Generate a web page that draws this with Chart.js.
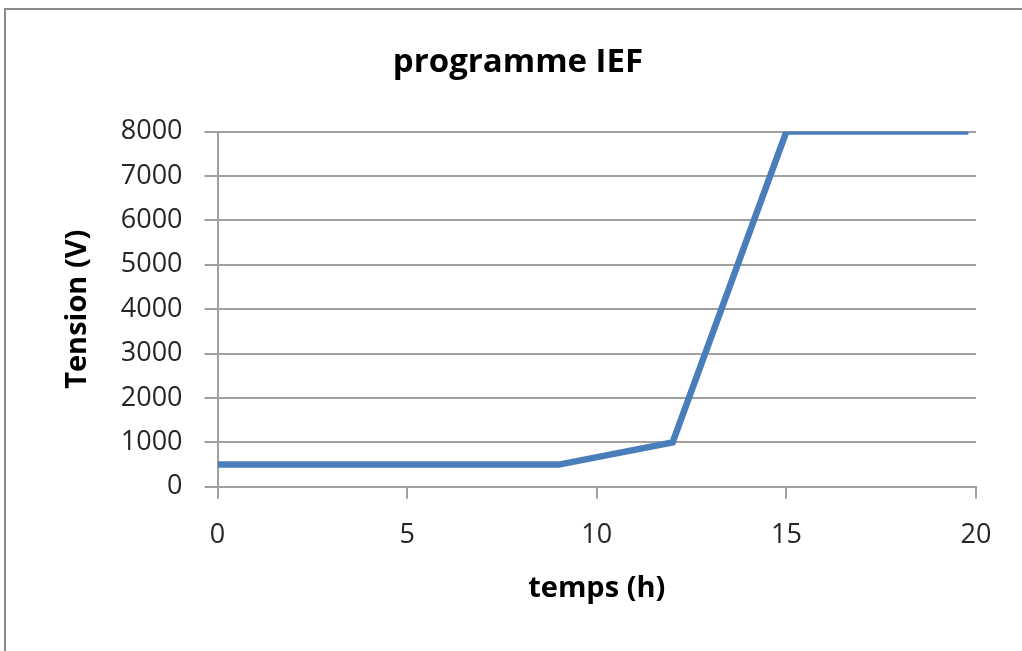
<!DOCTYPE html>
<html>
<head>
<meta charset="utf-8">
<script src="https://cdn.jsdelivr.net/npm/chart.js@4/dist/chart.umd.min.js"></script>
<style>
  html, body { margin: 0; padding: 0; background: #fff; }
  body { width: 1022px; height: 651px; overflow: hidden; position: relative; }
  #frame { position: absolute; left: 4px; top: 8px; width: 1030px; height: 660px;
           border: 2px solid #8a8a8a; box-sizing: border-box; }
  #wrap { position: absolute; left: 0; top: 0; width: 1022px; height: 651px; }
</style>
</head>
<body>
<div id="frame"></div>
<div id="wrap"><canvas id="c" width="1022" height="651"></canvas></div>
<script>
// IEF voltage program: time (h) vs. voltage (V)
const hours   = [0, 9, 12, 15, 19.8];
const voltage = [500, 500, 1000, 8000, 8000];
const xTicks  = [0, 5, 10, 15, 20];
const yTicks  = [0, 1000, 2000, 3000, 4000, 5000, 6000, 7000, 8000];

const points = hours.map((h, i) => ({ x: h, y: voltage[i] }));
const fontFamily = '"Open Sans", "Liberation Sans", sans-serif';
const gridColor = '#a0a0a0';

new Chart(document.getElementById('c'), {
  type: 'line',
  data: {
    datasets: [{
      data: points,
      borderColor: '#4a7ebb',
      borderWidth: 6.5,
      pointRadius: 0,
      tension: 0,
      fill: false,
      borderJoinStyle: 'miter'
    }]
  },
  options: {
    responsive: false,
    animation: false,
    layout: { padding: { left: 60, right: 46, top: 10, bottom: 10 } },
    plugins: {
      legend: { display: false },
      tooltip: { enabled: false },
      title: {
        display: true,
        text: 'programme IEF',
        color: '#000',
        font: { family: fontFamily, size: 33, weight: 'bold', lineHeight: 1.2 },
        padding: { top: 33, bottom: 49 }
      }
    },
    scales: {
      x: {
        type: 'linear',
        min: 0, max: 20,
        afterBuildTicks: axis => { axis.ticks = xTicks.map(v => ({ value: v })); },
        ticks: { color: '#262626', font: { family: fontFamily, size: 27, lineHeight: 1.2 }, padding: 20, maxRotation: 0 },
        grid: { display: true, drawOnChartArea: false, drawTicks: true, tickLength: 12, color: gridColor, lineWidth: 2 },
        border: { display: true, color: gridColor, width: 2 },
        title: {
          display: true, text: 'temps (h)', color: '#000',
          font: { family: fontFamily, size: 29, weight: 'bold', lineHeight: 1.2 },
          padding: { top: 0, bottom: 35 }
        }
      },
      y: {
        min: 0, max: 8000,
        afterBuildTicks: axis => { axis.ticks = yTicks.map(v => ({ value: v })); },
        ticks: {
          color: '#262626', font: { family: fontFamily, size: 27, lineHeight: 1.2 }, padding: 22,
          callback: v => String(v)
        },
        grid: { color: gridColor, lineWidth: 2, tickLength: 13 },
        border: { display: true, color: gridColor, width: 2 },
        title: {
          display: true, text: 'Tension (V)', color: '#000',
          font: { family: fontFamily, size: 29, weight: 'bold', lineHeight: 1.2 },
          padding: { top: 0, bottom: 4 }
        }
      }
    }
  }
});
</script>
</body>
</html>
